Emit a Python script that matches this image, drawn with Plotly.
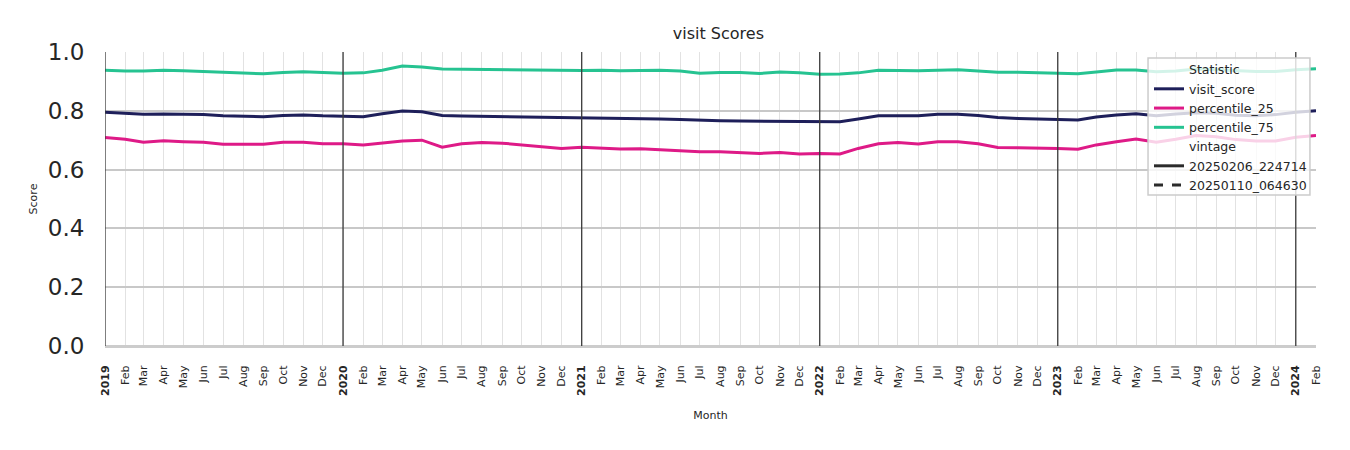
import plotly.graph_objects as go
import pandas as pd

months = pd.date_range("2019-01-01", "2024-02-01", freq="MS")

visit_score = [
    .795, .791, .788, .789, .788, .787, .783, .782, .780, .784, .786, .783,
    .782, .780, .790, .799, .797, .784, .782, .781, .780, .779, .779, .778,
    .776, .777, .775, .774, .772, .770, .767, .766, .765, .765, .764, .765,
    .763, .763, .772, .783, .783, .783, .788, .788, .784, .777, .774, .773,
    .772, .769, .779, .786, .790, .783, .789, .793, .792, .785, .783, .787,
    .795, .800,
]
percentile_25 = [
    .709, .703, .693, .698, .695, .693, .686, .687, .686, .693, .693, .688,
    .688, .684, .691, .697, .700, .676, .688, .692, .690, .684, .678, .672,
    .676, .674, .670, .671, .667, .663, .661, .661, .659, .655, .658, .653,
    .655, .653, .672, .688, .692, .687, .695, .695, .688, .675, .674, .674,
    .672, .669, .684, .695, .704, .693, .703, .716, .712, .702, .697, .697,
    .710, .716,
]
percentile_75 = [
    .938, .935, .935, .938, .936, .934, .931, .929, .926, .930, .933, .930,
    .928, .929, .938, .952, .949, .942, .941, .940, .939, .938, .939, .938,
    .937, .938, .936, .937, .938, .935, .928, .930, .930, .927, .932, .929,
    .924, .925, .929, .938, .936, .936, .938, .940, .935, .931, .931, .929,
    .926, .926, .932, .939, .939, .933, .935, .942, .940, .936, .934, .934,
    .940, .943,
]

series_names = ["visit_score", "percentile_25", "percentile_75"]
series_values = [visit_score, percentile_25, percentile_75]
series_colors = ["#1e1f5a", "#de1a87", "#26c391"]
vintages = ["20250206_224714", "20250110_064630"]
vintage_dash = ["solid", "dash"]

month_str = [d.strftime("%Y-%m-%d") for d in months]
tick_text = [f"<b>{d.year}</b>" if d.month == 1 else d.strftime("%b") for d in months]
years = [d.strftime("%Y-%m-%d") for d in months if d.month == 1]

FONT = "DejaVu Sans"
fig = go.Figure()

# legend header: Statistic
fig.add_trace(go.Scatter(x=[month_str[0]], y=[None], mode="lines", name="Statistic",
                         line=dict(color="rgba(0,0,0,0)", width=0), hoverinfo="skip"))
for name, vals, col in zip(series_names, series_values, series_colors):
    fig.add_trace(go.Scatter(x=month_str, y=vals, mode="lines", name=name,
                             line=dict(color=col, width=3)))
fig.add_trace(go.Scatter(x=[month_str[0]], y=[None], mode="lines", name="vintage",
                         line=dict(color="rgba(0,0,0,0)", width=0), hoverinfo="skip"))
for v, d in zip(vintages, vintage_dash):
    fig.add_trace(go.Scatter(x=[month_str[0]], y=[None], mode="lines", name=v,
                             line=dict(color="#2b2b2b", width=3, dash=d)))

# year separator lines
for y in years:
    fig.add_shape(type="line", xref="x", yref="paper", x0=y, x1=y, y0=0, y1=1,
                  line=dict(color="#3a3a3a", width=1.3), layer="above")

# legend frame (semi-transparent, drawn above the lines)
fig.add_shape(type="rect", xref="paper", yref="paper", x0=0.8613, x1=0.995, y0=0.5136, y1=0.98,
              line=dict(color="#cccccc", width=1.5), fillcolor="rgba(255,255,255,0.8)",
              layer="above")

fig.update_layout(
    width=1350, height=450,
    margin=dict(l=97, r=42, t=44, b=112),
    paper_bgcolor="white", plot_bgcolor="white",
    font=dict(family=FONT, color="#262626"),
    title=dict(text="visit Scores", x=0.5262, xanchor="center", y=0.944, yanchor="middle",
               font=dict(size=16, family=FONT, color="#262626")),
    showlegend=True,
    legend=dict(x=0.9967, y=0.99, xanchor="right", yanchor="top",
                bgcolor="rgba(0,0,0,0)", borderwidth=0,
                font=dict(size=12.5, family=FONT, color="#262626"), tracegroupgap=0,
                itemwidth=30),
)
fig.update_xaxes(
    type="date",
    range=[month_str[0], month_str[-1]], tickmode="array", tickvals=month_str, ticktext=tick_text,
    tickangle=-90, tickfont=dict(size=11, family=FONT, color="#262626"),
    showgrid=True, gridcolor="#e2e2e2", gridwidth=1,
    showline=False, zeroline=False,
    ticks="outside", ticklen=14, tickcolor="rgba(0,0,0,0)",
    title=dict(text="Month", font=dict(size=11, family=FONT, color="#262626"), standoff=16),
)
fig.update_yaxes(
    range=[0, 1.0], tickmode="array", tickvals=[0, 0.2, 0.4, 0.6, 0.8, 1.0],
    ticktext=["0.0", "0.2", "0.4", "0.6", "0.8", "1.0"],
    tickfont=dict(size=23, family=FONT, color="#262626"),
    showgrid=True, gridcolor="#c8c8c8", gridwidth=1.5,
    zeroline=True, zerolinecolor="#cccccc", zerolinewidth=3,
    showline=False,
    ticks="outside", ticklen=15, tickcolor="rgba(0,0,0,0)",
    title=dict(text="Score", font=dict(size=11, family=FONT, color="#262626"), standoff=7),
)

fig.write_html("out.html")
